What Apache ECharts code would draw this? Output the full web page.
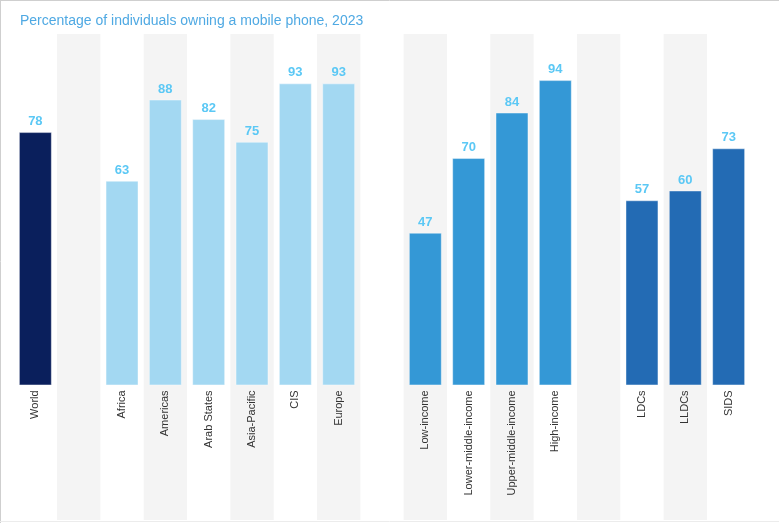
<!DOCTYPE html>
<html>
<head>
<meta charset="utf-8">
<script src="https://cdn.jsdelivr.net/npm/echarts@6/dist/echarts.min.js"></script>
<style>
html,body{margin:0;padding:0;background:#fff;}
#c{width:779px;height:523px;}
</style>
</head>
<body>
<div id="c"></div>
<script>
var titleText = 'Percentage of individuals owning a mobile phone, 2023';
var categories = ['World', ' ', 'Africa', 'Americas', 'Arab States', 'Asia-Pacific', 'CIS', 'Europe', '  ',
  'Low-income', 'Lower-middle-income', 'Upper-middle-income', 'High-income', '   ', 'LDCs', 'LLDCs', 'SIDS'];
var values = [78, null, 63, 88, 82, 75, 93, 93, null, 47, 70, 84, 94, null, 57, 60, 73];
var groups = ['world', null, 'region', 'region', 'region', 'region', 'region', 'region', null,
  'income', 'income', 'income', 'income', null, 'group', 'group', 'group'];
var groupColors = { world: '#0a1f5c', region: '#a3d8f2', income: '#3498d6', group: '#236bb4' };

var data = values.map(function (v, i) {
  if (v === null) return '-';
  return { value: v, itemStyle: { color: groupColors[groups[i]] } };
});

var chart = echarts.init(document.getElementById('c'), null, { renderer: 'canvas' });
chart.setOption({
  animation: false,
  backgroundColor: '#fff',
  title: {
    text: titleText,
    left: 15, top: 9,
    textStyle: { color: '#4fa9e3', fontSize: 14, fontWeight: 'normal', fontFamily: 'Liberation Sans, Arial, sans-serif' }
  },
  grid: [
    { left: 13.7, right: 28.7, top: 34, bottom: 137.6, containLabel: false, outerBoundsMode: 'none' },
    { left: 13.7, right: 28.7, top: 34, bottom: 3, containLabel: false, outerBoundsMode: 'none' }
  ],
  xAxis: [{
    type: 'category',
    gridIndex: 0,
    data: categories,
    axisLine: { show: false },
    axisTick: { show: false },
    splitLine: { show: false },
    axisLabel: {
      interval: 0, rotate: 90, margin: 5, hideOverlap: false,
      color: '#333', fontSize: 11, fontFamily: 'Liberation Sans, Arial, sans-serif'
    },
    z: 3
  }, {
    type: 'category',
    gridIndex: 1,
    data: categories,
    axisLine: { show: false },
    axisTick: { show: false, interval: 0 },
    axisLabel: { show: false, interval: 0 },
    splitLine: { show: false },
    splitArea: { show: true, interval: 0, areaStyle: { color: ['rgba(255,255,255,0)', '#f4f4f4'] } },
    z: 0
  }],
  yAxis: [
    { type: 'value', gridIndex: 0, min: 0, max: 108.2, show: false, splitLine: { show: false } },
    { type: 'value', gridIndex: 1, min: 0, max: 1, show: false, splitLine: { show: false } }
  ],
  series: [{
    type: 'bar',
    xAxisIndex: 0, yAxisIndex: 0,
    data: data,
    barWidth: '76%',
    itemStyle: { borderColor: 'rgba(255,255,255,0.4)', borderWidth: 1 },
    label: {
      show: true, position: 'top', distance: 4,
      color: '#5bc8f5', fontSize: 13, fontWeight: 600,
      fontFamily: 'Liberation Sans, Arial, sans-serif'
    }
  }],
  graphic: [
    { type: 'line', shape: { x1: 0, y1: 0.5, x2: 779, y2: 0.5 }, style: { stroke: '#cfcfcf', lineWidth: 1 } },
    { type: 'line', shape: { x1: 0.5, y1: 0, x2: 0.5, y2: 523 }, style: { stroke: '#cfcfcf', lineWidth: 1 } },
    { type: 'line', shape: { x1: 0, y1: 521.5, x2: 779, y2: 521.5 }, style: { stroke: '#ececec', lineWidth: 1 } }
  ]
});
</script>
</body>
</html>
